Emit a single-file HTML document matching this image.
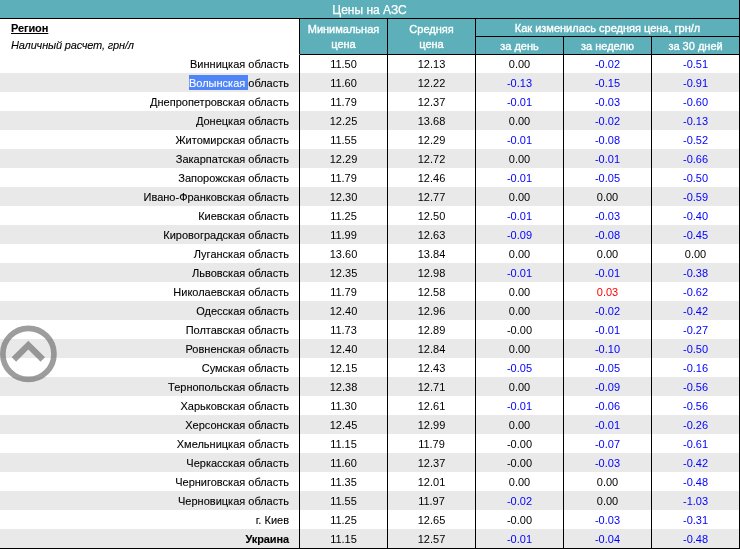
<!DOCTYPE html>
<html lang="ru">
<head>
<meta charset="utf-8">
<title>Цены на АЗС</title>
<style>
html,body{margin:0;padding:0;background:#fff;}
body{width:740px;height:549px;overflow:hidden;position:relative;font-family:"Liberation Sans",sans-serif;font-size:11px;color:#000;}
table{border-collapse:separate;border-spacing:0;table-layout:fixed;width:740px;position:absolute;left:0;top:0;}
col.c0{width:300px}col.cn{width:88px}
caption{caption-side:top;background:#5db0ba;color:#fff;font-size:12px;height:16px;padding:2px 0 0;line-height:17px;text-align:center;border-bottom:1px solid #000;border-right:1px solid #000;overflow:hidden;}
th,td{padding:0;margin:0;overflow:hidden;white-space:nowrap;box-sizing:border-box;}
th{background:#5db0ba;color:#fff;font-size:11px;font-weight:normal;text-align:center;border-right:1px solid #000;}
th.b{line-height:15px;}
th.b,th.s{-webkit-text-stroke:0.35px currentColor;}
caption{-webkit-text-stroke:0.25px currentColor;}
th.s{height:17px;line-height:16px;}
th.s1{height:18px;border-bottom:1px solid #000;}
th.reg{-webkit-text-stroke:0.1px currentColor;background:#fff;color:#000;text-align:left;padding-left:11px;padding-top:1px;line-height:17px;vertical-align:top;}
th.reg b{text-decoration:underline;letter-spacing:-0.1px;}
td.n b{letter-spacing:-0.12px;}
th.reg i{font-weight:normal;letter-spacing:-0.16px;}
td{height:19px;line-height:18px;text-align:center;background:#fff;border-right:1px solid #000;}
tr.g td{background:#e9e9e9;}
tr.first td{border-top:1px solid #000;}
tr.first td.n{border-top-color:#fff;}
td.n{text-align:right;padding-right:10px;-webkit-text-stroke:0.1px currentColor;}
tr.last td{height:20px;border-bottom:1px solid #000;}
td.neg{color:#0000ff;}
td.pos{color:#ff0000;}
.sel{background:#5085f7;color:#fff;padding:2px 0 1px;}
#up{position:absolute;left:0;top:325px;width:58px;height:58px;}
</style>
</head>
<body>
<table>
<caption>Цены на АЗС</caption>
<colgroup><col class="c0"><col class="cn"><col class="cn"><col class="cn"><col class="cn"><col class="cn"></colgroup>
<thead>
<tr><th class="reg" rowspan="2"><b>Регион</b><br><i>Наличный расчет, грн/л</i></th><th class="b" rowspan="2">Минимальная<br>цена</th><th class="b" rowspan="2">Средняя<br>цена</th><th class="s s1" colspan="3">Как изменилась средняя цена, грн/л</th></tr>
<tr><th class="s">за день</th><th class="s">за неделю</th><th class="s">за 30 дней</th></tr>
</thead>
<tbody>
<tr class="first"><td class="n">Винницкая область</td><td>11.50</td><td>12.13</td><td>0.00</td><td class="neg">-0.02</td><td class="neg">-0.51</td></tr>
<tr class="g"><td class="n"><span class="sel">Волынская </span>область</td><td>11.60</td><td>12.22</td><td class="neg">-0.13</td><td class="neg">-0.15</td><td class="neg">-0.91</td></tr>
<tr><td class="n">Днепропетровская область</td><td>11.79</td><td>12.37</td><td class="neg">-0.01</td><td class="neg">-0.03</td><td class="neg">-0.60</td></tr>
<tr class="g"><td class="n">Донецкая область</td><td>12.25</td><td>13.68</td><td>0.00</td><td class="neg">-0.02</td><td class="neg">-0.13</td></tr>
<tr><td class="n">Житомирская область</td><td>11.55</td><td>12.29</td><td class="neg">-0.01</td><td class="neg">-0.08</td><td class="neg">-0.52</td></tr>
<tr class="g"><td class="n">Закарпатская область</td><td>12.29</td><td>12.72</td><td>0.00</td><td class="neg">-0.01</td><td class="neg">-0.66</td></tr>
<tr><td class="n">Запорожская область</td><td>11.79</td><td>12.46</td><td class="neg">-0.01</td><td class="neg">-0.05</td><td class="neg">-0.50</td></tr>
<tr class="g"><td class="n">Ивано-Франковская область</td><td>12.30</td><td>12.77</td><td>0.00</td><td>0.00</td><td class="neg">-0.59</td></tr>
<tr><td class="n">Киевская область</td><td>11.25</td><td>12.50</td><td class="neg">-0.01</td><td class="neg">-0.03</td><td class="neg">-0.40</td></tr>
<tr class="g"><td class="n">Кировоградская область</td><td>11.99</td><td>12.63</td><td class="neg">-0.09</td><td class="neg">-0.08</td><td class="neg">-0.45</td></tr>
<tr><td class="n">Луганская область</td><td>13.60</td><td>13.84</td><td>0.00</td><td>0.00</td><td>0.00</td></tr>
<tr class="g"><td class="n">Львовская область</td><td>12.35</td><td>12.98</td><td class="neg">-0.01</td><td class="neg">-0.01</td><td class="neg">-0.38</td></tr>
<tr><td class="n">Николаевская область</td><td>11.79</td><td>12.58</td><td>0.00</td><td class="pos">0.03</td><td class="neg">-0.62</td></tr>
<tr class="g"><td class="n">Одесская область</td><td>12.40</td><td>12.96</td><td>0.00</td><td class="neg">-0.02</td><td class="neg">-0.42</td></tr>
<tr><td class="n">Полтавская область</td><td>11.73</td><td>12.89</td><td>-0.00</td><td class="neg">-0.01</td><td class="neg">-0.27</td></tr>
<tr class="g"><td class="n">Ровненская область</td><td>12.40</td><td>12.84</td><td>0.00</td><td class="neg">-0.10</td><td class="neg">-0.50</td></tr>
<tr><td class="n">Сумская область</td><td>12.15</td><td>12.43</td><td class="neg">-0.05</td><td class="neg">-0.05</td><td class="neg">-0.16</td></tr>
<tr class="g"><td class="n">Тернопольская область</td><td>12.38</td><td>12.71</td><td>0.00</td><td class="neg">-0.09</td><td class="neg">-0.56</td></tr>
<tr><td class="n">Харьковская область</td><td>11.30</td><td>12.61</td><td class="neg">-0.01</td><td class="neg">-0.06</td><td class="neg">-0.56</td></tr>
<tr class="g"><td class="n">Херсонская область</td><td>12.45</td><td>12.99</td><td>0.00</td><td class="neg">-0.01</td><td class="neg">-0.26</td></tr>
<tr><td class="n">Хмельницкая область</td><td>11.15</td><td>11.79</td><td>-0.00</td><td class="neg">-0.07</td><td class="neg">-0.61</td></tr>
<tr class="g"><td class="n">Черкасская область</td><td>11.60</td><td>12.37</td><td>-0.00</td><td class="neg">-0.03</td><td class="neg">-0.42</td></tr>
<tr><td class="n">Черниговская область</td><td>11.35</td><td>12.01</td><td>0.00</td><td>0.00</td><td class="neg">-0.48</td></tr>
<tr class="g"><td class="n">Черновицкая область</td><td>11.55</td><td>11.97</td><td class="neg">-0.02</td><td>0.00</td><td class="neg">-1.03</td></tr>
<tr><td class="n">г. Киев</td><td>11.25</td><td>12.65</td><td>-0.00</td><td class="neg">-0.03</td><td class="neg">-0.31</td></tr>
<tr class="g last"><td class="n"><b>Украина</b></td><td>11.15</td><td>12.57</td><td class="neg">-0.01</td><td class="neg">-0.04</td><td class="neg">-0.48</td></tr>
</tbody>
</table>
<svg id="up" viewBox="0 0 58 58" role="img" aria-label="Наверх">
<g fill="none" stroke="#6a6a6a" opacity="0.65">
<circle cx="28.4" cy="28.9" r="25.55" stroke-width="5.7"/>
<path d="M13.9 34.5 L28.3 20.1 L42.8 34.5" stroke-width="6.3" stroke-linejoin="miter"/>
</g>
</svg>
</body>
</html>
